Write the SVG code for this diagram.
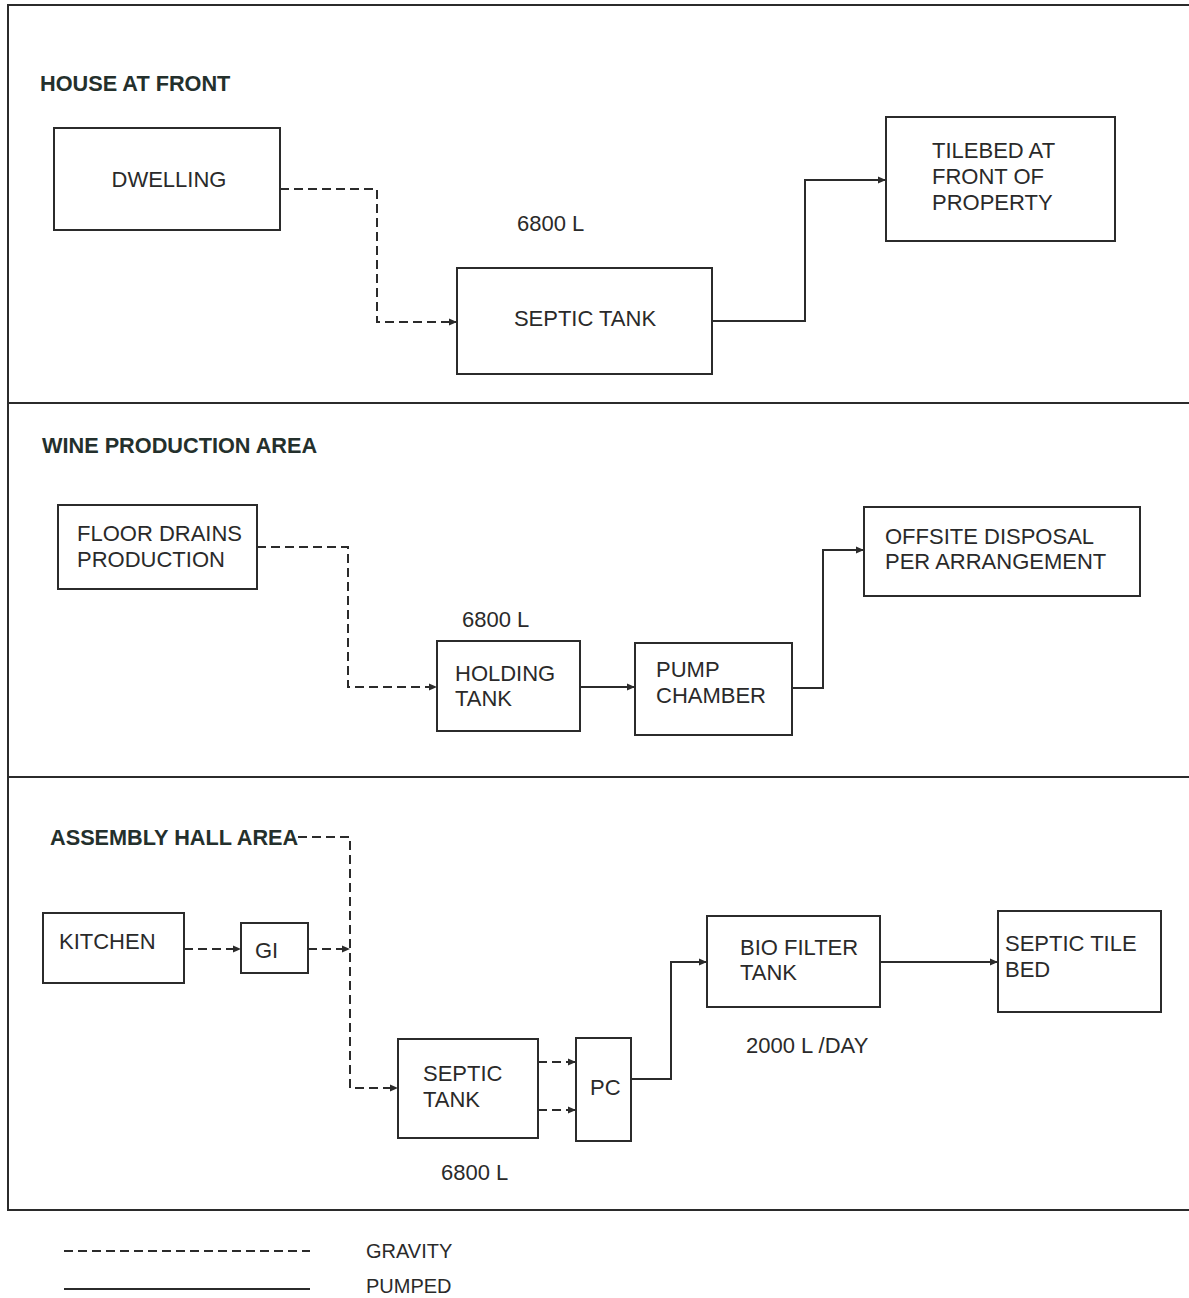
<svg xmlns="http://www.w3.org/2000/svg" width="1189" height="1298" viewBox="0 0 1189 1298">
<style>
  .frame { fill: none; stroke: #2b2b2b; stroke-width: 2; }
  .box { fill: #fff; stroke: #2b2b2b; stroke-width: 2; }
  .t { font-family: "Liberation Sans", Arial, sans-serif; font-size: 22px; fill: #2a2a2a; }
  .h { font-family: "Liberation Sans", Arial, sans-serif; font-size: 21.7px; font-weight: bold; fill: #24302c; }
  .grav { fill: none; stroke: #2b2b2b; stroke-width: 2; stroke-dasharray: 9 5; }
  .pump { fill: none; stroke: #2b2b2b; stroke-width: 2; }
</style>
<defs>
  <marker id="ah" markerWidth="8" markerHeight="8" refX="7" refY="4" orient="auto" markerUnits="userSpaceOnUse">
    <path d="M0,0.5 L8,4 L0,7.5 Z" fill="#2b2b2b"/>
  </marker>
</defs>
<rect width="1189" height="1298" fill="#fff"/>

<g id="frame">
  <path class="frame" d="M1189,5 H8 V1210 H1189"/>
  <line class="frame" x1="8" y1="403" x2="1189" y2="403"/>
  <line class="frame" x1="8" y1="777" x2="1189" y2="777"/>
</g>

<g id="section-titles">
  <text class="h" x="40" y="91">HOUSE AT FRONT</text>
  <text class="h" x="42" y="453">WINE PRODUCTION AREA</text>
  <text class="h" x="50" y="845">ASSEMBLY HALL AREA</text>
</g>

<g id="dwelling">
  <rect class="box" x="54" y="128" width="226" height="102"/>
  <text class="t" x="169" y="187" text-anchor="middle">DWELLING</text>
</g>
<g id="septic-tank-1">
  <rect class="box" x="457" y="268" width="255" height="106"/>
  <text class="t" x="585" y="326" text-anchor="middle">SEPTIC TANK</text>
  <text class="t" x="517" y="231">6800 L</text>
</g>
<g id="tilebed">
  <rect class="box" x="886" y="117" width="229" height="124"/>
  <text class="t" x="932" y="158">TILEBED AT</text>
  <text class="t" x="932" y="184">FRONT OF</text>
  <text class="t" x="932" y="210">PROPERTY</text>
</g>

<g id="floor-drains">
  <rect class="box" x="58" y="505" width="199" height="84"/>
  <text class="t" x="77" y="541">FLOOR DRAINS</text>
  <text class="t" x="77" y="567">PRODUCTION</text>
</g>
<g id="holding-tank">
  <rect class="box" x="437" y="641" width="143" height="90"/>
  <text class="t" x="455" y="681">HOLDING</text>
  <text class="t" x="455" y="706">TANK</text>
  <text class="t" x="462" y="627">6800 L</text>
</g>
<g id="pump-chamber">
  <rect class="box" x="635" y="643" width="157" height="92"/>
  <text class="t" x="656" y="677">PUMP</text>
  <text class="t" x="656" y="703">CHAMBER</text>
</g>
<g id="offsite">
  <rect class="box" x="864" y="507" width="276" height="89"/>
  <text class="t" x="885" y="544">OFFSITE DISPOSAL</text>
  <text class="t" x="885" y="569">PER ARRANGEMENT</text>
</g>

<g id="kitchen">
  <rect class="box" x="43" y="913" width="141" height="70"/>
  <text class="t" x="59" y="949">KITCHEN</text>
</g>
<g id="gi">
  <rect class="box" x="241" y="923" width="67" height="50"/>
  <text class="t" x="255" y="958">GI</text>
</g>
<g id="septic-tank-2">
  <rect class="box" x="398" y="1039" width="140" height="99"/>
  <text class="t" x="423" y="1081">SEPTIC</text>
  <text class="t" x="423" y="1107">TANK</text>
  <text class="t" x="441" y="1180">6800 L</text>
</g>
<g id="pc">
  <rect class="box" x="576" y="1038" width="55" height="103"/>
  <text class="t" x="590" y="1095">PC</text>
</g>
<g id="bio-filter">
  <rect class="box" x="707" y="916" width="173" height="91"/>
  <text class="t" x="740" y="955">BIO FILTER</text>
  <text class="t" x="740" y="980">TANK</text>
  <text class="t" x="746" y="1053">2000 L /DAY</text>
</g>
<g id="septic-tile-bed">
  <rect class="box" x="998" y="911" width="163" height="101"/>
  <text class="t" x="1005" y="951">SEPTIC TILE</text>
  <text class="t" x="1005" y="977">BED</text>
</g>

<g id="connectors">
  <path class="grav" d="M280,189 H377 V322 H456" marker-end="url(#ah)"/>
  <path class="pump" d="M712,321 H805 V180 H885" marker-end="url(#ah)"/>
  <path class="grav" d="M257,547 H348 V687 H436" marker-end="url(#ah)"/>
  <path class="pump" d="M580,687 H634" marker-end="url(#ah)"/>
  <path class="pump" d="M792,688 H823 V550 H863" marker-end="url(#ah)"/>
  <path class="grav" d="M298,837 H350 V1088 H397" marker-end="url(#ah)"/>
  <path class="grav" d="M184,949 H240" marker-end="url(#ah)"/>
  <path class="grav" d="M308,949 H349" marker-end="url(#ah)"/>
  <path class="grav" d="M538,1062 H575" marker-end="url(#ah)"/>
  <path class="grav" d="M538,1110 H575" marker-end="url(#ah)"/>
  <path class="pump" d="M631,1079 H671 V962 H706" marker-end="url(#ah)"/>
  <path class="pump" d="M880,962 H997" marker-end="url(#ah)"/>
</g>

<g id="legend">
  <line class="grav" x1="64" y1="1251" x2="310" y2="1251"/>
  <line class="pump" x1="64" y1="1289" x2="310" y2="1289"/>
  <text class="t" x="366" y="1258" style="font-size:20px">GRAVITY</text>
  <text class="t" x="366" y="1293" style="font-size:20px">PUMPED</text>
</g>
</svg>
